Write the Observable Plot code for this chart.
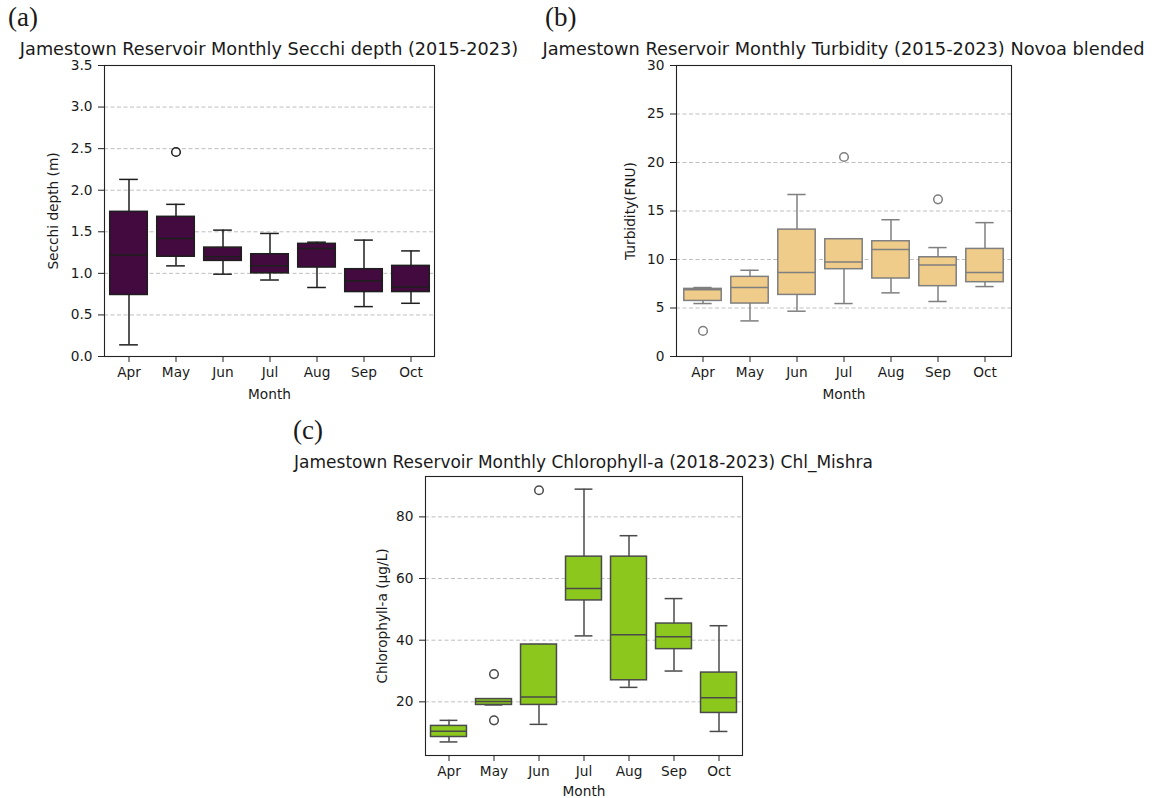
<!DOCTYPE html>
<html><head><meta charset="utf-8">
<script src="https://cdn.jsdelivr.net/npm/d3@7"></script>
<script src="https://cdn.jsdelivr.net/npm/@observablehq/plot@0.6"></script>
<style>
html,body{margin:0;padding:0;background:#fff;overflow:hidden;}
#root{position:relative;width:1154px;height:798px;overflow:hidden;font-family:"DejaVu Sans",sans-serif;color:#1a1a1a;}
.abs{position:absolute;}
.lab{font-family:"Liberation Serif","DejaVu Serif",serif;font-size:27px;line-height:1;}
.title{text-align:center;white-space:nowrap;line-height:0.9;}
svg{position:absolute;}
</style></head><body><div id="root"></div>
<script>
const months = ["Apr","May","Jun","Jul","Aug","Sep","Oct"];

// (a) Secchi depth (m)
const secchiLow  = [0.14, 1.09, 0.99, 0.92, 0.83, 0.60, 0.64];
const secchiQ1   = [0.74, 1.20, 1.15, 1.00, 1.07, 0.775, 0.775];
const secchiMed  = [1.22, 1.42, 1.20, 1.09, 1.30, 0.91, 0.835];
const secchiQ3   = [1.74, 1.68, 1.31, 1.23, 1.355, 1.05, 1.09];
const secchiHigh = [2.13, 1.83, 1.52, 1.48, 1.375, 1.40, 1.27];
const secchiOutMonth = ["May"];
const secchiOutValue = [2.46];
const secchiTicks = [0, 0.5, 1.0, 1.5, 2.0, 2.5, 3.0, 3.5];

// (b) Turbidity (FNU)
const turbLow  = [5.46, 3.67, 4.67, 5.46, 6.56, 5.67, 7.21];
const turbQ1   = [5.73, 5.46, 6.35, 9.00, 8.04, 7.25, 7.66];
const turbMed  = [6.87, 7.11, 8.65, 9.75, 11.02, 9.44, 8.65];
const turbQ3   = [6.97, 8.21, 13.08, 12.09, 11.88, 10.23, 11.09];
const turbHigh = [7.11, 8.89, 16.7, 12.12, 14.1, 11.23, 13.8];
const turbOutMonth = ["Apr", "Jul", "Sep"];
const turbOutValue = [2.64, 20.57, 16.2];
const turbTicks = [0, 5, 10, 15, 20, 25, 30];

// (c) Chlorophyll-a (µg/L)
const chlLow  = [7.0, 19.0, 12.7, 41.4, 24.7, 30.0, 10.4];
const chlQ1   = [8.6, 19.0, 19.0, 52.9, 27.0, 37.1, 16.4];
const chlMed  = [10.5, 20.1, 21.6, 56.8, 41.8, 41.1, 21.3];
const chlQ3   = [12.2, 20.9, 38.6, 67.1, 67.1, 45.4, 29.5];
const chlHigh = [14.0, 21.0, 38.6, 89.0, 73.9, 53.5, 44.7];
const chlOutMonth = ["May", "May", "Jun"];
const chlOutValue = [29.0, 14.0, 88.65];
const chlTicks = [20, 40, 60, 80];

const root = document.getElementById("root");
function addDiv(cls, text, left, top, width, fontSize) {
  const d = document.createElement("div");
  d.className = "abs " + cls;
  d.textContent = text;
  d.style.left = left + "px";
  d.style.top = top + "px";
  if (width) d.style.width = width + "px";
  if (fontSize) d.style.fontSize = fontSize + "px";
  root.appendChild(d);
  return d;
}

function panel(cfg) {
  const rows = months.map((m, i) => ({month: m, low: cfg.low[i], q1: cfg.q1[i], med: cfg.med[i], q3: cfg.q3[i], high: cfg.high[i]}));
  const outs = cfg.outMonth.map((m, i) => ({month: m, value: cfg.outValue[i]}));
  const mL = 70, mR = 10, mT = 10, mB = cfg.mB;
  const band = cfg.fw / months.length;
  const boxInset = band * 0.1;
  const capInset = band * 0.3;
  const lw = 1.5;
  const svg = Plot.plot({
    width: cfg.fw + mL + mR,
    height: cfg.fh + mT + mB,
    marginLeft: mL, marginRight: mR, marginTop: mT, marginBottom: mB,
    style: {fontFamily: "DejaVu Sans", fontSize: "13.7px", color: "#1a1a1a", background: "transparent", overflow: "visible"},
    x: {type: "band", domain: months, padding: 0},
    y: {domain: cfg.yDomain},
    marks: [
      Plot.gridY(cfg.ticks, {stroke: "#b8b8b8", strokeOpacity: 1, strokeWidth: 0.9, strokeDasharray: "4,2.5"}),
      Plot.ruleX(rows, {x: "month", y1: "low", y2: "q1", stroke: cfg.line, strokeWidth: lw}),
      Plot.ruleX(rows, {x: "month", y1: "q3", y2: "high", stroke: cfg.line, strokeWidth: lw}),
      Plot.tickY(rows, {x: "month", y: "low", insetLeft: capInset, insetRight: capInset, stroke: cfg.line, strokeWidth: lw}),
      Plot.tickY(rows, {x: "month", y: "high", insetLeft: capInset, insetRight: capInset, stroke: cfg.line, strokeWidth: lw}),
      Plot.barY(rows, {x: "month", y1: "q1", y2: "q3", fill: cfg.fill, stroke: cfg.line, strokeWidth: lw, insetLeft: boxInset, insetRight: boxInset}),
      Plot.tickY(rows, {x: "month", y: "med", insetLeft: boxInset, insetRight: boxInset, stroke: cfg.line, strokeWidth: lw}),
      Plot.dot(outs, {x: "month", y: "value", r: 4.3, stroke: cfg.line, fill: "none", strokeWidth: lw}),
      Plot.frame({stroke: "#222", strokeWidth: 1.1}),
      Plot.axisY(cfg.ticks, {tickFormat: cfg.fmt, tickSize: 6, tickPadding: 6, label: cfg.yLabel, labelAnchor: "center", labelArrow: "none", labelOffset: cfg.yLabelOffset, stroke: "#222"}),
      Plot.axisX({tickSize: 6, tickPadding: 5, label: "Month", labelAnchor: "center", labelArrow: "none", labelOffset: cfg.xLabelOffset, stroke: "#222"})
    ]
  });
  svg.style.left = (cfg.fx - mL) + "px";
  svg.style.top = (cfg.fy - mT) + "px";
  root.appendChild(svg);
  const cx = cfg.fx + cfg.fw / 2;
  addDiv("title", cfg.title, cx - 400, cfg.fy - cfg.titleGap, 800, cfg.titleSize);
}

panel({
  low: secchiLow, q1: secchiQ1, med: secchiMed, q3: secchiQ3, high: secchiHigh,
  outMonth: secchiOutMonth, outValue: secchiOutValue, ticks: secchiTicks,
  fmt: d3.format(".1f"), yDomain: [0, 3.5], yLabel: "Secchi depth (m)",
  fill: "#420A3E", line: "#1e1e1e",
  fx: 104, fy: 65, fw: 330, fh: 291, mB: 50, yLabelOffset: 56, xLabelOffset: 42,
  title: "Jamestown Reservoir Monthly Secchi depth (2015-2023)", titleGap: 23, titleSize: 17.7
});
panel({
  low: turbLow, q1: turbQ1, med: turbMed, q3: turbQ3, high: turbHigh,
  outMonth: turbOutMonth, outValue: turbOutValue, ticks: turbTicks,
  fmt: d3.format("d"), yDomain: [0, 30], yLabel: "Turbidity(FNU)",
  fill: "#F0CC8B", line: "#7f7f7f",
  fx: 676, fy: 65, fw: 335, fh: 291, mB: 50, yLabelOffset: 51, xLabelOffset: 42,
  title: "Jamestown Reservoir Monthly Turbidity (2015-2023) Novoa blended", titleGap: 24, titleSize: 17.8
});
panel({
  low: chlLow, q1: chlQ1, med: chlMed, q3: chlQ3, high: chlHigh,
  outMonth: chlOutMonth, outValue: chlOutValue, ticks: chlTicks,
  fmt: d3.format("d"), yDomain: [2.6, 93.1], yLabel: "Chlorophyll-a (µg/L)",
  fill: "#8CC71E", line: "#4a4a4a",
  fx: 425, fy: 476, fw: 317, fh: 279, mB: 43, yLabelOffset: 48, xLabelOffset: 40,
  title: "Jamestown Reservoir Monthly Chlorophyll-a (2018-2023) Chl_Mishra", titleGap: 21, titleSize: 17
});

addDiv("lab", "(a)", 8, 4);
addDiv("lab", "(b)", 545, 4);
addDiv("lab", "(c)", 293, 417);
</script></body></html>
